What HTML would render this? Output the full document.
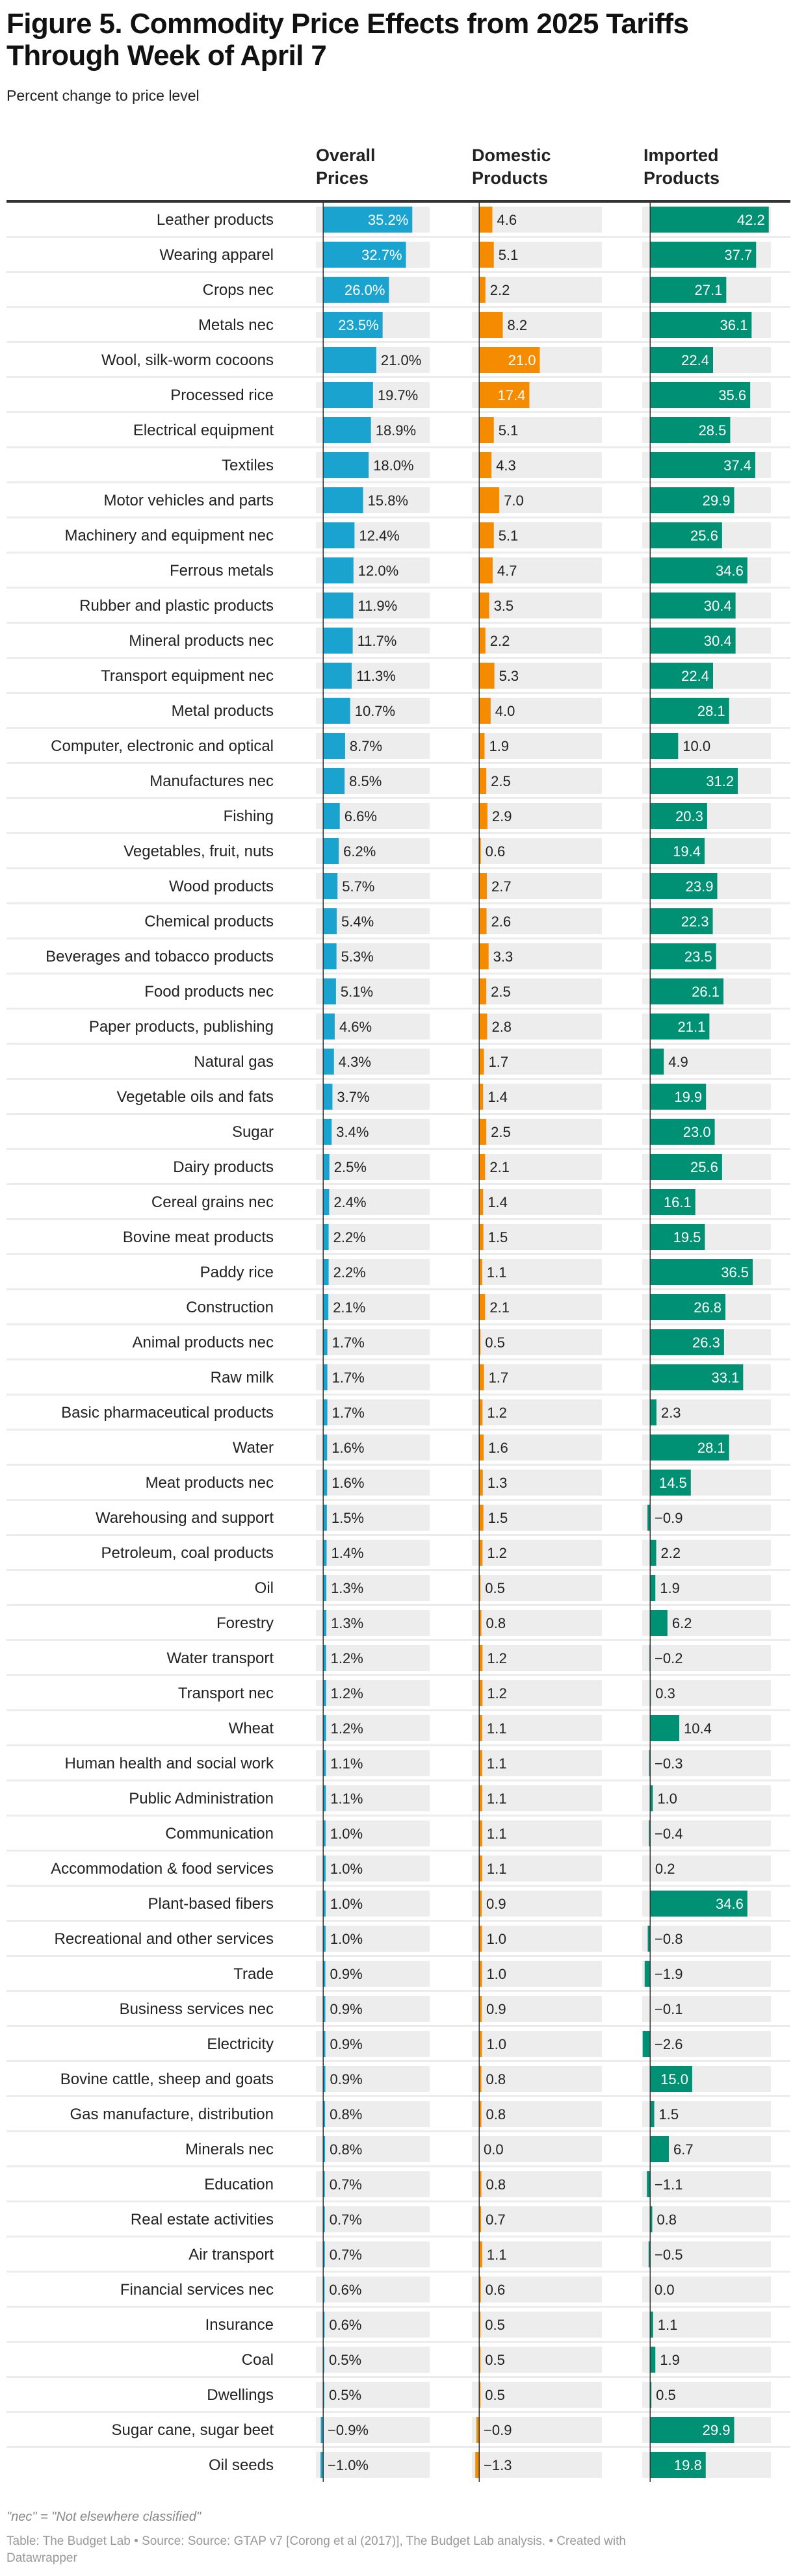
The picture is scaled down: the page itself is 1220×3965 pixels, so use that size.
<!DOCTYPE html>
<html><head><meta charset="utf-8">
<style>
html,body{margin:0;padding:0;background:#fff;}
body{width:1220px;height:3960px;overflow:hidden;font-family:"Liberation Sans",Arial,sans-serif;}
svg text{font-family:"Liberation Sans",Arial,sans-serif;}
</style></head>
<body>
<svg id="chart" width="1220" height="3960" viewBox="0 0 1220 3960" xmlns="http://www.w3.org/2000/svg">
<text x="10" y="51" font-size="44" font-weight="bold" fill="#111" letter-spacing="-0.6">Figure 5. Commodity Price Effects from 2025 Tariffs</text>
<text x="10" y="100" font-size="44" font-weight="bold" fill="#111" letter-spacing="-0.6">Through Week of April 7</text>
<text x="10" y="155" font-size="23" fill="#222">Percent change to price level</text>
<text x="486" y="248" font-size="27" font-weight="bold" fill="#222">Overall</text>
<text x="486" y="283" font-size="27" font-weight="bold" fill="#222">Prices</text>
<text x="726" y="248" font-size="27" font-weight="bold" fill="#222">Domestic</text>
<text x="726" y="283" font-size="27" font-weight="bold" fill="#222">Products</text>
<text x="990" y="248" font-size="27" font-weight="bold" fill="#222">Imported</text>
<text x="990" y="283" font-size="27" font-weight="bold" fill="#222">Products</text>
<rect x="10" y="308" width="1206" height="4" fill="#333"/>
<g id="rows"></g>
<text x="10" y="3880" font-size="20" font-style="italic" fill="#888">"nec" = "Not elsewhere classified"</text>
<text x="10" y="3917" font-size="19" fill="#999">Table: The Budget Lab • Source: Source: GTAP v7 [Corong et al (2017)], The Budget Lab analysis. • Created with</text>
<text x="10" y="3943" font-size="19" fill="#999">Datawrapper</text>
</svg>
<script>
const categories = ["Leather products","Wearing apparel","Crops nec","Metals nec","Wool, silk-worm cocoons","Processed rice","Electrical equipment","Textiles","Motor vehicles and parts","Machinery and equipment nec","Ferrous metals","Rubber and plastic products","Mineral products nec","Transport equipment nec","Metal products","Computer, electronic and optical","Manufactures nec","Fishing","Vegetables, fruit, nuts","Wood products","Chemical products","Beverages and tobacco products","Food products nec","Paper products, publishing","Natural gas","Vegetable oils and fats","Sugar","Dairy products","Cereal grains nec","Bovine meat products","Paddy rice","Construction","Animal products nec","Raw milk","Basic pharmaceutical products","Water","Meat products nec","Warehousing and support","Petroleum, coal products","Oil","Forestry","Water transport","Transport nec","Wheat","Human health and social work","Public Administration","Communication","Accommodation & food services","Plant-based fibers","Recreational and other services","Trade","Business services nec","Electricity","Bovine cattle, sheep and goats","Gas manufacture, distribution","Minerals nec","Education","Real estate activities","Air transport","Financial services nec","Insurance","Coal","Dwellings","Sugar cane, sugar beet","Oil seeds"];
const overall = [35.2,32.7,26.0,23.5,21.0,19.7,18.9,18.0,15.8,12.4,12.0,11.9,11.7,11.3,10.7,8.7,8.5,6.6,6.2,5.7,5.4,5.3,5.1,4.6,4.3,3.7,3.4,2.5,2.4,2.2,2.2,2.1,1.7,1.7,1.7,1.6,1.6,1.5,1.4,1.3,1.3,1.2,1.2,1.2,1.1,1.1,1.0,1.0,1.0,1.0,0.9,0.9,0.9,0.9,0.8,0.8,0.7,0.7,0.7,0.6,0.6,0.5,0.5,-0.9,-1.0];
const domestic = [4.6,5.1,2.2,8.2,21.0,17.4,5.1,4.3,7.0,5.1,4.7,3.5,2.2,5.3,4.0,1.9,2.5,2.9,0.6,2.7,2.6,3.3,2.5,2.8,1.7,1.4,2.5,2.1,1.4,1.5,1.1,2.1,0.5,1.7,1.2,1.6,1.3,1.5,1.2,0.5,0.8,1.2,1.2,1.1,1.1,1.1,1.1,1.1,0.9,1.0,1.0,0.9,1.0,0.8,0.8,0.0,0.8,0.7,1.1,0.6,0.5,0.5,0.5,-0.9,-1.3];
const imported = [42.2,37.7,27.1,36.1,22.4,35.6,28.5,37.4,29.9,25.6,34.6,30.4,30.4,22.4,28.1,10.0,31.2,20.3,19.4,23.9,22.3,23.5,26.1,21.1,4.9,19.9,23.0,25.6,16.1,19.5,36.5,26.8,26.3,33.1,2.3,28.1,14.5,-0.9,2.2,1.9,6.2,-0.2,0.3,10.4,-0.3,1.0,-0.4,0.2,34.6,-0.8,-1.9,-0.1,-2.6,15.0,1.5,6.7,-1.1,0.8,-0.5,0.0,1.1,1.9,0.5,29.9,19.8];

const NS = "http://www.w3.org/2000/svg";
const g = document.getElementById('rows');
const cols = [
  {key:'overall', vals:overall, zero:497, k:3.9, bg0:486, bg1:661, color:'#1ba3cf', pct:true, inside:22},
  {key:'domestic', vals:domestic, zero:737, k:4.45, bg0:726, bg1:926, color:'#f58b00', pct:false, inside:10},
  {key:'imported', vals:imported, zero:1000, k:4.33, bg0:988, bg1:1186, color:'#009073', pct:false, inside:12}
];
function xScale(c, v){ return c.zero + v*c.k; }
function fmt(v, pct){ let s = Math.abs(v).toFixed(1); if(v<0) s = '\u2212'+s; return pct ? s+'%' : s; }
function mk(tag, attrs){ const e=document.createElementNS(NS,tag); for(const a in attrs) e.setAttribute(a, attrs[a]); return e; }
const top0 = 318, pitch = 54, barH = 40;
categories.forEach((cat,i)=>{
  const y = top0 + i*pitch;
  if(i>0){
    const sep = mk('rect',{x:10,y:y-9,width:1206,height:3,fill:'#ececec'});
    
    
    g.appendChild(sep);
  }
  const lab = mk('text',{x:421,y:y+barH/2+8,'text-anchor':'end','font-size':24,fill:'#222'});
  lab.textContent = cat;
  
  
  g.appendChild(lab);
  cols.forEach(c=>{
    const bg = mk('rect',{x:c.bg0,y:y,width:c.bg1-c.bg0,height:barH,fill:'#ededed'});
    
    
    g.appendChild(bg);
    const v = c.vals[i];
    const xv = xScale(c,v), x0 = Math.min(xv,c.zero), w = Math.abs(xv-c.zero);
    const bar = mk('rect',{x:x0,y:y,width:Math.max(w,0.01),height:barH,fill:c.color});
    
    
    g.appendChild(bar);
    const inside = v >= c.inside;
    const t = mk('text',{y:y+barH/2+8,'font-size':22,fill: inside?'#fff':'#222'});
    if(inside){ t.setAttribute('x', xv-6); t.setAttribute('text-anchor','end'); }
    else { t.setAttribute('x', Math.max(xv,c.zero)+7); }
    t.textContent = fmt(v,c.pct);
    
    
    g.appendChild(t);
  });
});
cols.forEach(c=>{
  const ln = mk('rect',{x:c.zero-0.5,y:312,width:1.5,height:top0+(categories.length-1)*pitch+barH+6-312,fill:'#333'});
  
  
  g.appendChild(ln);
});
</script>
</body></html>
